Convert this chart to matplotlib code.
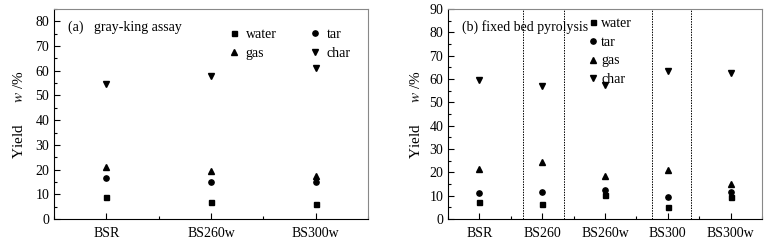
import numpy as np
import matplotlib.pyplot as plt
from matplotlib.ticker import MultipleLocator

plt.rcParams['font.family'] = ['Liberation Serif', 'DejaVu Serif']
plt.rcParams['font.size'] = 9
plt.rcParams['mathtext.fontset'] = 'stix'

# (a) gray-king assay
samples_a = ['BSR', 'BS260w', 'BS300w']
water_a = [9.0, 7.0, 6.0]
tar_a = [16.5, 15.0, 15.0]
gas_a = [21.0, 19.5, 17.5]
char_a = [54.5, 58.0, 61.0]

# (b) fixed bed pyrolysis
samples_b = ['BSR', 'BS260', 'BS260w', 'BS300', 'BS300w']
water_b = [7.5, 6.5, 10.5, 5.0, 9.5]
tar_b = [11.0, 11.5, 12.5, 9.5, 11.5]
gas_b = [21.5, 24.5, 18.5, 21.0, 15.0]
char_b = [59.5, 57.0, 57.5, 63.5, 62.5]
dividers_b = [1.2, 1.84, 3.25, 3.87]

fig = plt.figure(figsize=(7.83, 2.46), dpi=100)
ax1 = fig.add_axes([54/783, 27/246, 314/783, 210/246])
ax2 = fig.add_axes([448/783, 27/246, 314/783, 210/246])


def style_ax(ax, n, ymax):
    x = np.arange(n) + 0.5
    ax.set_xlim(0, n)
    ax.set_ylim(0, ymax)
    ax.set_xticks(x)
    ax.xaxis.set_minor_locator(MultipleLocator(1))
    ax.yaxis.set_major_locator(MultipleLocator(10))
    ax.yaxis.set_minor_locator(MultipleLocator(5))
    ax.tick_params(which='major', direction='in', length=4, width=0.8, labelsize=10)
    ax.tick_params(which='minor', direction='in', length=2, width=0.8)
    ax.tick_params(axis='x', which='major', pad=6)
    for s in ['top', 'right']:
        ax.spines[s].set_color('#888888')
    ax.set_ylabel('Yield      $w$ /%', fontsize=11)
    return x


def draw_points(ax, x, water, tar, gas, char):
    ax.plot(x, water, 's', color='k', ms=3.6, label='water')
    ax.plot(x, tar, 'o', color='k', ms=3.8, label='tar')
    ax.plot(x, gas, '^', color='k', ms=4.2, label='gas')
    ax.plot(x, char, 'v', color='k', ms=4.2, label='char')


xa = style_ax(ax1, 3, 85)
ax1.set_xticklabels(samples_a)
draw_points(ax1, xa, water_a, tar_a, gas_a, char_a)
ax1.text(0.045, 0.915, '(a)   gray-king assay', transform=ax1.transAxes, fontsize=10, va='center')
h, l = ax1.get_legend_handles_labels()
ax1.legend([h[0], h[2], h[1], h[3]], [l[0], l[2], l[1], l[3]], ncol=2, frameon=False,
           loc='upper left', bbox_to_anchor=(0.5, 0.97), handletextpad=0.1, handlelength=1.5,
           columnspacing=2.0, labelspacing=0.45, fontsize=10)
ax1.yaxis.set_label_coords(-0.09, 0.5)

xb = style_ax(ax2, 5, 90)
ax2.set_xticklabels(samples_b)
draw_points(ax2, xb, water_b, tar_b, gas_b, char_b)
for d in dividers_b:
    ax2.axvline(d, color='k', ls=(0, (1.5, 1.2)), lw=0.7)
ax2.text(0.045, 0.915, '(b) fixed bed pyrolysis', transform=ax2.transAxes, fontsize=10, va='center')
ax2.legend(frameon=False, loc='upper left', bbox_to_anchor=(0.39, 1.02), handletextpad=-0.2,
           handlelength=1.5, labelspacing=0.4, fontsize=10)
ax2.yaxis.set_label_coords(-0.08, 0.5)

fig.savefig('out.png', dpi=100)
